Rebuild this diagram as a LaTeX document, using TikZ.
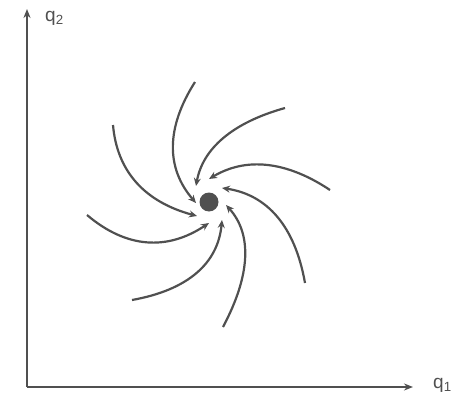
\documentclass[tikz,border=0pt]{standalone}
\usepackage{fontspec}
\setmainfont{Liberation Sans}
\usetikzlibrary{arrows.meta}
\definecolor{ink}{HTML}{505050}
\begin{document}
\begin{tikzpicture}[x=1pt,y=-1pt,
  axis/.style={draw=ink,line width=1.8pt,-{Stealth[length=9pt,width=7pt]}},
  flow/.style={draw=ink,line width=2.2pt,-{Stealth[length=8pt,width=7pt]}},
  lbl/.style={text=ink,font=\fontsize{19}{19}\selectfont,inner sep=0pt}]
\useasboundingbox (0,0) rectangle (451,407);
% axes
\coordinate (O) at (27,387);
\coordinate (ytop) at (27,9);
\coordinate (xend) at (413,387);
\draw[axis] (O) -- (ytop);
\draw[axis] (O) -- (xend);
\node[lbl,anchor=west] (q2) at (45,18) {q\textsubscript{2}};
\node[lbl,anchor=west] (q1) at (433,385) {q\textsubscript{1}};
% centre
\node[circle,fill=ink,minimum size=19pt,inner sep=0pt] (c) at (209,202) {};
% start points
\coordinate (sa) at (195,82);
\coordinate (sb) at (285,108);
\coordinate (sc) at (330,190);
\coordinate (sd) at (305,283);
\coordinate (se) at (223,327);
\coordinate (sf) at (132,300);
\coordinate (sg) at (87,215);
\coordinate (sh) at (113,125);
% end points
\coordinate (ea) at (196,203);
\coordinate (eb) at (196,186);
\coordinate (ec) at (209,179);
\coordinate (ed) at (222,188);
\coordinate (ee) at (226,205);
\coordinate (ef) at (222,220);
\coordinate (eg) at (209,223);
\coordinate (eh) at (197,216);
\draw[flow] (sa) .. controls (165.7,128) and (166,168.3) .. (ea);
\draw[flow] (sb) .. controls (232.3,122.7) and (202.7,148.7) .. (eb);
\draw[flow] (sc) .. controls (286,160.7) and (245.7,157) .. (ec);
\draw[flow] (sd) .. controls (295,226.3) and (267.3,194.7) .. (ed);
\draw[flow] (se) .. controls (251,274.3) and (252,233.7) .. (ee);
\draw[flow] (sf) .. controls (188,290) and (218,263.3) .. (ef);
\draw[flow] (sg) .. controls (126.3,248.3) and (167,251) .. (eg);
\draw[flow] (sh) .. controls (117,171.7) and (145,202) .. (eh);
\end{tikzpicture}
\end{document}
